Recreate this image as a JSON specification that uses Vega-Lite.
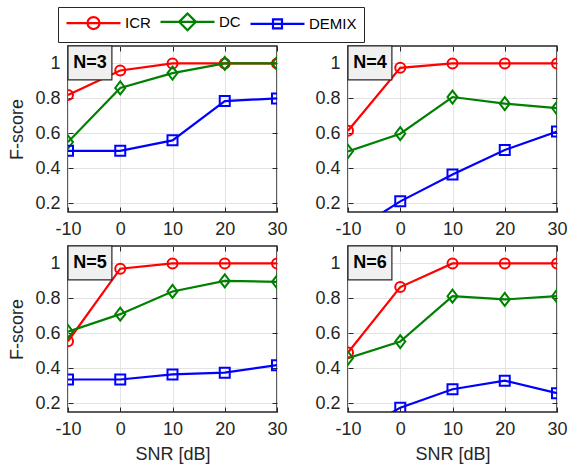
{
  "$schema": "https://vega.github.io/schema/vega-lite/v6.json",
  "padding": {"left": 8, "top": 6, "right": 0, "bottom": 0},
  "background": "white",
  "data": {"values": [
    {"N": 3, "series": "ICR", "SNR": -10, "F": 0.82},
    {"N": 3, "series": "ICR", "SNR": 0, "F": 0.96},
    {"N": 3, "series": "ICR", "SNR": 10, "F": 1.0},
    {"N": 3, "series": "ICR", "SNR": 20, "F": 1.0},
    {"N": 3, "series": "ICR", "SNR": 30, "F": 1.0},
    {"N": 3, "series": "DC", "SNR": -10, "F": 0.55},
    {"N": 3, "series": "DC", "SNR": 0, "F": 0.86},
    {"N": 3, "series": "DC", "SNR": 10, "F": 0.945},
    {"N": 3, "series": "DC", "SNR": 20, "F": 1.0},
    {"N": 3, "series": "DC", "SNR": 30, "F": 1.0},
    {"N": 3, "series": "DEMIX", "SNR": -10, "F": 0.5},
    {"N": 3, "series": "DEMIX", "SNR": 0, "F": 0.5},
    {"N": 3, "series": "DEMIX", "SNR": 10, "F": 0.56},
    {"N": 3, "series": "DEMIX", "SNR": 20, "F": 0.785},
    {"N": 3, "series": "DEMIX", "SNR": 30, "F": 0.8},
    {"N": 4, "series": "ICR", "SNR": -10, "F": 0.615},
    {"N": 4, "series": "ICR", "SNR": 0, "F": 0.975},
    {"N": 4, "series": "ICR", "SNR": 10, "F": 1.0},
    {"N": 4, "series": "ICR", "SNR": 20, "F": 1.0},
    {"N": 4, "series": "ICR", "SNR": 30, "F": 1.0},
    {"N": 4, "series": "DC", "SNR": -10, "F": 0.497},
    {"N": 4, "series": "DC", "SNR": 0, "F": 0.598},
    {"N": 4, "series": "DC", "SNR": 10, "F": 0.808},
    {"N": 4, "series": "DC", "SNR": 20, "F": 0.77},
    {"N": 4, "series": "DC", "SNR": 30, "F": 0.745},
    {"N": 4, "series": "DEMIX", "SNR": -10, "F": 0.02},
    {"N": 4, "series": "DEMIX", "SNR": 0, "F": 0.211},
    {"N": 4, "series": "DEMIX", "SNR": 10, "F": 0.364},
    {"N": 4, "series": "DEMIX", "SNR": 20, "F": 0.505},
    {"N": 4, "series": "DEMIX", "SNR": 30, "F": 0.61},
    {"N": 5, "series": "ICR", "SNR": -10, "F": 0.555},
    {"N": 5, "series": "ICR", "SNR": 0, "F": 0.97},
    {"N": 5, "series": "ICR", "SNR": 10, "F": 1.0},
    {"N": 5, "series": "ICR", "SNR": 20, "F": 1.0},
    {"N": 5, "series": "ICR", "SNR": 30, "F": 1.0},
    {"N": 5, "series": "DC", "SNR": -10, "F": 0.61},
    {"N": 5, "series": "DC", "SNR": 0, "F": 0.71},
    {"N": 5, "series": "DC", "SNR": 10, "F": 0.84},
    {"N": 5, "series": "DC", "SNR": 20, "F": 0.9},
    {"N": 5, "series": "DC", "SNR": 30, "F": 0.895},
    {"N": 5, "series": "DEMIX", "SNR": -10, "F": 0.336},
    {"N": 5, "series": "DEMIX", "SNR": 0, "F": 0.336},
    {"N": 5, "series": "DEMIX", "SNR": 10, "F": 0.365},
    {"N": 5, "series": "DEMIX", "SNR": 20, "F": 0.375},
    {"N": 5, "series": "DEMIX", "SNR": 30, "F": 0.418},
    {"N": 6, "series": "ICR", "SNR": -10, "F": 0.49},
    {"N": 6, "series": "ICR", "SNR": 0, "F": 0.865},
    {"N": 6, "series": "ICR", "SNR": 10, "F": 1.0},
    {"N": 6, "series": "ICR", "SNR": 20, "F": 1.0},
    {"N": 6, "series": "ICR", "SNR": 30, "F": 1.0},
    {"N": 6, "series": "DC", "SNR": -10, "F": 0.458},
    {"N": 6, "series": "DC", "SNR": 0, "F": 0.553},
    {"N": 6, "series": "DC", "SNR": 10, "F": 0.813},
    {"N": 6, "series": "DC", "SNR": 20, "F": 0.794},
    {"N": 6, "series": "DC", "SNR": 30, "F": 0.813},
    {"N": 6, "series": "DEMIX", "SNR": -10, "F": 0.0},
    {"N": 6, "series": "DEMIX", "SNR": 0, "F": 0.175},
    {"N": 6, "series": "DEMIX", "SNR": 10, "F": 0.28},
    {"N": 6, "series": "DEMIX", "SNR": 20, "F": 0.329},
    {"N": 6, "series": "DEMIX", "SNR": 30, "F": 0.258}
  ]},
  "columns": 2,
  "spacing": {"row": 34, "column": 71},
  "bounds": "flush",
  "concat": [
    {
      "width": 209, "height": 166,
      "resolve": {"axis": {"x": "independent", "y": "independent"}},
      "layer": [
        {"transform": [{"filter": "datum.N == 3"}],
         "mark": {"type": "line", "strokeWidth": 2.2, "clip": true},
         "encoding": {
           "x": {"field": "SNR", "type": "quantitative", "scale": {"domain": [-10, 30], "nice": false, "zero": false}, "axis": {"values": [-10, 0, 10, 20, 30], "title": null, "labelFlush": false, "labelExpr": "'' + datum.value"}},
           "y": {"field": "F", "type": "quantitative", "scale": {"domain": [0.15, 1.1], "nice": false, "zero": false}, "axis": {"values": [0.2, 0.4, 0.6, 0.8, 1], "format": "~g", "title": "F-score"}},
           "color": {"field": "series", "type": "nominal", "scale": {"domain": ["ICR", "DC", "DEMIX"], "range": ["#ff0000", "#008000", "#0000ff"]},
             "legend": {"orient": "none", "legendX": -10, "legendY": -39, "direction": "horizontal", "columns": 3, "title": null}}
         }},
        {"transform": [{"filter": "datum.N == 3 && datum.series == 'ICR'"}],
         "mark": {"type": "point", "shape": "circle", "size": 100, "strokeWidth": 2, "filled": false, "color": "#ff0000", "opacity": 1, "clip": true},
         "encoding": {
           "x": {"field": "SNR", "type": "quantitative", "axis": {"orient": "top", "labels": false, "grid": false, "title": null, "values": [-10, 0, 10, 20, 30]}},
           "y": {"field": "F", "type": "quantitative", "axis": {"orient": "right", "labels": false, "grid": false, "title": null, "values": [0.2, 0.4, 0.6, 0.8, 1]}}
         }},
        {"transform": [{"filter": "datum.N == 3 && datum.series == 'DC'"}],
         "mark": {"type": "point", "shape": "M0,-1.3L1,0L0,1.3L-1,0Z", "size": 100, "strokeWidth": 2, "filled": false, "color": "#008000", "opacity": 1, "clip": true},
         "encoding": {
           "x": {"field": "SNR", "type": "quantitative", "axis": null},
           "y": {"field": "F", "type": "quantitative", "axis": null}
         }},
        {"transform": [{"filter": "datum.N == 3 && datum.series == 'DEMIX'"}],
         "mark": {"type": "point", "shape": "square", "size": 100, "strokeWidth": 2, "filled": false, "color": "#0000ff", "opacity": 1, "clip": true},
         "encoding": {
           "x": {"field": "SNR", "type": "quantitative", "axis": null},
           "y": {"field": "F", "type": "quantitative", "axis": null}
         }},
        {"transform": [{"filter": "datum.N == 3"}],
         "mark": {"type": "point", "filled": false, "opacity": 0, "strokeWidth": 2.2},
         "encoding": {
           "x": {"field": "SNR", "type": "quantitative", "axis": null},
           "y": {"field": "F", "type": "quantitative", "axis": null},
           "color": {"field": "series", "type": "nominal", "scale": {"domain": ["ICR", "DC", "DEMIX"], "range": ["#ff0000", "#008000", "#0000ff"]},
             "legend": {"orient": "none", "legendX": -10, "legendY": -39, "direction": "horizontal", "columns": 3, "title": null}},
           "shape": {"field": "series", "type": "nominal", "scale": {"domain": ["ICR", "DC", "DEMIX"], "range": ["M-4.5,0H4.5M-1,0A1,1,0,1,1,1,0A1,1,0,1,1,-1,0", "M-4.5,0H4.5M0,-1.4L1.4,0L0,1.4L-1.4,0Z", "M-4.5,0H4.5M-0.75,-0.75H0.75V0.75H-0.75Z"]},
             "legend": {"orient": "none", "legendX": -10, "legendY": -39, "direction": "horizontal", "columns": 3, "title": null}}
         }},
        {"data": {"values": [{"label": "N=3"}]},
         "mark": {"type": "rect", "fill": "#f0f0f0", "stroke": "#262626", "strokeWidth": 1.2},
         "encoding": {
           "x": {"datum": -10, "type": "quantitative", "axis": null}, "x2": {"datum": -1.6},
           "y": {"datum": 1.1, "type": "quantitative", "axis": null}, "y2": {"datum": 0.906}
         }},
        {"data": {"values": [{"label": "N=3"}]},
         "mark": {"type": "text", "font": "Liberation Sans", "fontSize": 18, "fontWeight": "bold", "color": "#000000"},
         "encoding": {
           "x": {"datum": -5.8, "type": "quantitative", "axis": null},
           "y": {"datum": 1.003, "type": "quantitative", "axis": null},
           "text": {"field": "label"}
         }}
      ]
    },
    {
      "width": 209, "height": 166,
      "resolve": {"axis": {"x": "independent", "y": "independent"}},
      "layer": [
        {"transform": [{"filter": "datum.N == 4"}],
         "mark": {"type": "line", "strokeWidth": 2.2, "clip": true},
         "encoding": {
           "x": {"field": "SNR", "type": "quantitative", "scale": {"domain": [-10, 30], "nice": false, "zero": false}, "axis": {"values": [-10, 0, 10, 20, 30], "title": null, "labelFlush": false, "labelExpr": "'' + datum.value"}},
           "y": {"field": "F", "type": "quantitative", "scale": {"domain": [0.15, 1.1], "nice": false, "zero": false}, "axis": {"values": [0.2, 0.4, 0.6, 0.8, 1], "format": "~g", "title": null}},
           "color": {"field": "series", "type": "nominal", "scale": {"domain": ["ICR", "DC", "DEMIX"], "range": ["#ff0000", "#008000", "#0000ff"]},
             "legend": {"orient": "none", "legendX": -10, "legendY": -39, "direction": "horizontal", "columns": 3, "title": null}}
         }},
        {"transform": [{"filter": "datum.N == 4 && datum.series == 'ICR'"}],
         "mark": {"type": "point", "shape": "circle", "size": 100, "strokeWidth": 2, "filled": false, "color": "#ff0000", "opacity": 1, "clip": true},
         "encoding": {
           "x": {"field": "SNR", "type": "quantitative", "axis": {"orient": "top", "labels": false, "grid": false, "title": null, "values": [-10, 0, 10, 20, 30]}},
           "y": {"field": "F", "type": "quantitative", "axis": {"orient": "right", "labels": false, "grid": false, "title": null, "values": [0.2, 0.4, 0.6, 0.8, 1]}}
         }},
        {"transform": [{"filter": "datum.N == 4 && datum.series == 'DC'"}],
         "mark": {"type": "point", "shape": "M0,-1.3L1,0L0,1.3L-1,0Z", "size": 100, "strokeWidth": 2, "filled": false, "color": "#008000", "opacity": 1, "clip": true},
         "encoding": {
           "x": {"field": "SNR", "type": "quantitative", "axis": null},
           "y": {"field": "F", "type": "quantitative", "axis": null}
         }},
        {"transform": [{"filter": "datum.N == 4 && datum.series == 'DEMIX'"}],
         "mark": {"type": "point", "shape": "square", "size": 100, "strokeWidth": 2, "filled": false, "color": "#0000ff", "opacity": 1, "clip": true},
         "encoding": {
           "x": {"field": "SNR", "type": "quantitative", "axis": null},
           "y": {"field": "F", "type": "quantitative", "axis": null}
         }},
        {"data": {"values": [{"label": "N=4"}]},
         "mark": {"type": "rect", "fill": "#f0f0f0", "stroke": "#262626", "strokeWidth": 1.2},
         "encoding": {
           "x": {"datum": -10, "type": "quantitative", "axis": null}, "x2": {"datum": -1.6},
           "y": {"datum": 1.1, "type": "quantitative", "axis": null}, "y2": {"datum": 0.906}
         }},
        {"data": {"values": [{"label": "N=4"}]},
         "mark": {"type": "text", "font": "Liberation Sans", "fontSize": 18, "fontWeight": "bold", "color": "#000000"},
         "encoding": {
           "x": {"datum": -5.8, "type": "quantitative", "axis": null},
           "y": {"datum": 1.003, "type": "quantitative", "axis": null},
           "text": {"field": "label"}
         }}
      ]
    },
    {
      "width": 209, "height": 166,
      "resolve": {"axis": {"x": "independent", "y": "independent"}},
      "layer": [
        {"transform": [{"filter": "datum.N == 5"}],
         "mark": {"type": "line", "strokeWidth": 2.2, "clip": true},
         "encoding": {
           "x": {"field": "SNR", "type": "quantitative", "scale": {"domain": [-10, 30], "nice": false, "zero": false}, "axis": {"values": [-10, 0, 10, 20, 30], "title": "SNR [dB]", "labelFlush": false, "labelExpr": "'' + datum.value"}},
           "y": {"field": "F", "type": "quantitative", "scale": {"domain": [0.15, 1.1], "nice": false, "zero": false}, "axis": {"values": [0.2, 0.4, 0.6, 0.8, 1], "format": "~g", "title": "F-score"}},
           "color": {"field": "series", "type": "nominal", "scale": {"domain": ["ICR", "DC", "DEMIX"], "range": ["#ff0000", "#008000", "#0000ff"]},
             "legend": {"orient": "none", "legendX": -10, "legendY": -39, "direction": "horizontal", "columns": 3, "title": null}}
         }},
        {"transform": [{"filter": "datum.N == 5 && datum.series == 'ICR'"}],
         "mark": {"type": "point", "shape": "circle", "size": 100, "strokeWidth": 2, "filled": false, "color": "#ff0000", "opacity": 1, "clip": true},
         "encoding": {
           "x": {"field": "SNR", "type": "quantitative", "axis": {"orient": "top", "labels": false, "grid": false, "title": null, "values": [-10, 0, 10, 20, 30]}},
           "y": {"field": "F", "type": "quantitative", "axis": {"orient": "right", "labels": false, "grid": false, "title": null, "values": [0.2, 0.4, 0.6, 0.8, 1]}}
         }},
        {"transform": [{"filter": "datum.N == 5 && datum.series == 'DC'"}],
         "mark": {"type": "point", "shape": "M0,-1.3L1,0L0,1.3L-1,0Z", "size": 100, "strokeWidth": 2, "filled": false, "color": "#008000", "opacity": 1, "clip": true},
         "encoding": {
           "x": {"field": "SNR", "type": "quantitative", "axis": null},
           "y": {"field": "F", "type": "quantitative", "axis": null}
         }},
        {"transform": [{"filter": "datum.N == 5 && datum.series == 'DEMIX'"}],
         "mark": {"type": "point", "shape": "square", "size": 100, "strokeWidth": 2, "filled": false, "color": "#0000ff", "opacity": 1, "clip": true},
         "encoding": {
           "x": {"field": "SNR", "type": "quantitative", "axis": null},
           "y": {"field": "F", "type": "quantitative", "axis": null}
         }},
        {"data": {"values": [{"label": "N=5"}]},
         "mark": {"type": "rect", "fill": "#f0f0f0", "stroke": "#262626", "strokeWidth": 1.2},
         "encoding": {
           "x": {"datum": -10, "type": "quantitative", "axis": null}, "x2": {"datum": -1.6},
           "y": {"datum": 1.1, "type": "quantitative", "axis": null}, "y2": {"datum": 0.906}
         }},
        {"data": {"values": [{"label": "N=5"}]},
         "mark": {"type": "text", "font": "Liberation Sans", "fontSize": 18, "fontWeight": "bold", "color": "#000000"},
         "encoding": {
           "x": {"datum": -5.8, "type": "quantitative", "axis": null},
           "y": {"datum": 1.003, "type": "quantitative", "axis": null},
           "text": {"field": "label"}
         }}
      ]
    },
    {
      "width": 209, "height": 166,
      "resolve": {"axis": {"x": "independent", "y": "independent"}},
      "layer": [
        {"transform": [{"filter": "datum.N == 6"}],
         "mark": {"type": "line", "strokeWidth": 2.2, "clip": true},
         "encoding": {
           "x": {"field": "SNR", "type": "quantitative", "scale": {"domain": [-10, 30], "nice": false, "zero": false}, "axis": {"values": [-10, 0, 10, 20, 30], "title": "SNR [dB]", "labelFlush": false, "labelExpr": "'' + datum.value"}},
           "y": {"field": "F", "type": "quantitative", "scale": {"domain": [0.15, 1.1], "nice": false, "zero": false}, "axis": {"values": [0.2, 0.4, 0.6, 0.8, 1], "format": "~g", "title": null}},
           "color": {"field": "series", "type": "nominal", "scale": {"domain": ["ICR", "DC", "DEMIX"], "range": ["#ff0000", "#008000", "#0000ff"]},
             "legend": {"orient": "none", "legendX": -10, "legendY": -39, "direction": "horizontal", "columns": 3, "title": null}}
         }},
        {"transform": [{"filter": "datum.N == 6 && datum.series == 'ICR'"}],
         "mark": {"type": "point", "shape": "circle", "size": 100, "strokeWidth": 2, "filled": false, "color": "#ff0000", "opacity": 1, "clip": true},
         "encoding": {
           "x": {"field": "SNR", "type": "quantitative", "axis": {"orient": "top", "labels": false, "grid": false, "title": null, "values": [-10, 0, 10, 20, 30]}},
           "y": {"field": "F", "type": "quantitative", "axis": {"orient": "right", "labels": false, "grid": false, "title": null, "values": [0.2, 0.4, 0.6, 0.8, 1]}}
         }},
        {"transform": [{"filter": "datum.N == 6 && datum.series == 'DC'"}],
         "mark": {"type": "point", "shape": "M0,-1.3L1,0L0,1.3L-1,0Z", "size": 100, "strokeWidth": 2, "filled": false, "color": "#008000", "opacity": 1, "clip": true},
         "encoding": {
           "x": {"field": "SNR", "type": "quantitative", "axis": null},
           "y": {"field": "F", "type": "quantitative", "axis": null}
         }},
        {"transform": [{"filter": "datum.N == 6 && datum.series == 'DEMIX'"}],
         "mark": {"type": "point", "shape": "square", "size": 100, "strokeWidth": 2, "filled": false, "color": "#0000ff", "opacity": 1, "clip": true},
         "encoding": {
           "x": {"field": "SNR", "type": "quantitative", "axis": null},
           "y": {"field": "F", "type": "quantitative", "axis": null}
         }},
        {"data": {"values": [{"label": "N=6"}]},
         "mark": {"type": "rect", "fill": "#f0f0f0", "stroke": "#262626", "strokeWidth": 1.2},
         "encoding": {
           "x": {"datum": -10, "type": "quantitative", "axis": null}, "x2": {"datum": -1.6},
           "y": {"datum": 1.1, "type": "quantitative", "axis": null}, "y2": {"datum": 0.906}
         }},
        {"data": {"values": [{"label": "N=6"}]},
         "mark": {"type": "text", "font": "Liberation Sans", "fontSize": 18, "fontWeight": "bold", "color": "#000000"},
         "encoding": {
           "x": {"datum": -5.8, "type": "quantitative", "axis": null},
           "y": {"datum": 1.003, "type": "quantitative", "axis": null},
           "text": {"field": "label"}
         }}
      ]
    }
  ],
  "config": {
    "view": {"stroke": "#262626", "strokeWidth": 1.5},
    "axis": {"labelFont": "Liberation Sans", "labelFontSize": 18, "labelColor": "#262626", "titleFont": "Liberation Sans", "titleFontSize": 18, "titleColor": "#262626", "titleFontWeight": "normal", "gridColor": "#e3e3e3", "gridWidth": 1, "tickColor": "#262626", "tickWidth": 1, "tickSize": -5, "domain": false},
    "axisX": {"labelPadding": 13, "titlePadding": 7},
    "axisY": {"labelPadding": 13, "titlePadding": 8},
    "legend": {"symbolSize": 144, "symbolStrokeWidth": 2.2, "symbolOffset": 21, "labelOffset": 24, "columnPadding": 5, "padding": 7, "strokeColor": "#262626", "fillColor": "#ffffff", "labelFont": "Liberation Sans", "labelFontSize": 15, "labelColor": "#000000", "symbolOpacity": 1}
  }
}
